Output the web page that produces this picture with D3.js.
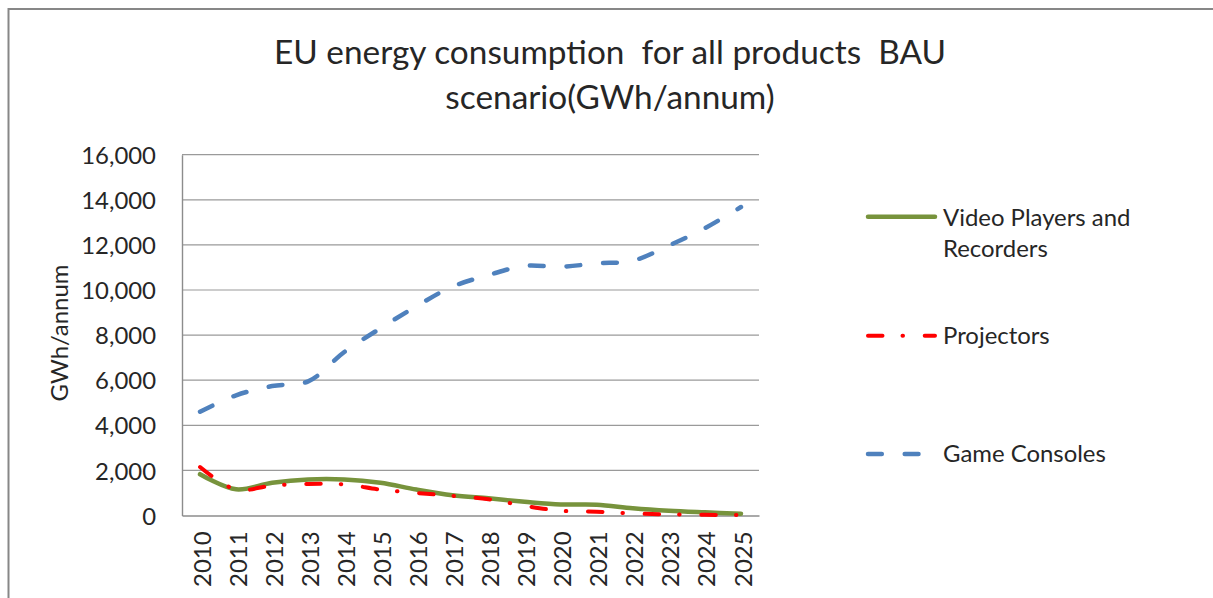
<!DOCTYPE html>
<html>
<head>
<meta charset="utf-8">
<script src="https://cdn.jsdelivr.net/npm/d3@7"></script>
<style>
  html, body { margin: 0; padding: 0; background: #fff; }
  svg { display: block; }
</style>
</head>
<body>
<svg id="chart" width="1213" height="598"></svg>
<script>
// ---- data ----
const years = ["2010","2011","2012","2013","2014","2015","2016","2017","2018","2019","2020","2021","2022","2023","2024","2025"];
const videoPlayers = [1830, 1160, 1450, 1600, 1600, 1450, 1150, 900, 760, 610, 490, 480, 320, 210, 140, 80];
const projectors   = [2150, 1150, 1330, 1400, 1380, 1150, 1000, 870, 720, 430, 210, 170, 90, 50, 30, 20];
const gameConsoles = [4600, 5330, 5740, 5950, 7250, 8300, 9280, 10150, 10660, 11070, 11030, 11180, 11300, 11970, 12740, 13680];
const yTicks = [0, 2000, 4000, 6000, 8000, 10000, 12000, 14000, 16000];
const titleLines = ["EU energy consumption  for all products  BAU", "scenario(GWh/annum)"];
const yTitle = "GWh/annum";
const seriesNames = [["Video Players and", "Recorders"], ["Projectors"], ["Game Consoles"]];

(function () {
const FONT = "Lato, 'Open Sans', sans-serif";
const TEXT = "#262626";
const svg = d3.select("#chart");

function fitSize(str, target) {
  const t = svg.append("text").attr("font-family", FONT).attr("font-size", 100).style("white-space", "pre").text(str);
  const w = t.node().getComputedTextLength();
  t.remove();
  return 100 * target / w;
}
const labelSize = (fitSize("16,000", 73) + fitSize("Video Players and", 192)) / 2;
const titleSize = fitSize(titleLines[0], 672);

// outer border
svg.append("rect").attr("x", 8.5).attr("y", 9).attr("width", 1230).attr("height", 620)
  .attr("fill", "none").attr("stroke", "#878787").attr("stroke-width", 2);

// title
svg.append("g").selectAll("text").data(titleLines).join("text")
  .attr("x", 610).attr("y", (d, i) => 64 + i * 45)
  .attr("text-anchor", "middle").attr("font-family", FONT).attr("font-size", titleSize)
  .attr("fill", TEXT).style("white-space", "pre").text(d => d);

// scales
const pLeft = 182, pRight = 759, pTop = 154.7, pBottom = 515.5;
const x = d3.scalePoint().domain(years).range([pLeft, pRight]).padding(0.5);
const y = d3.scaleLinear().domain([0, 16000]).range([pBottom, pTop]);

// gridlines
svg.append("g").selectAll("line").data(yTicks.filter(d => d > 0)).join("line")
  .attr("x1", pLeft).attr("x2", pRight).attr("y1", d => y(d)).attr("y2", d => y(d))
  .attr("stroke", "#9a9a9a").attr("stroke-width", 1.2);

// y axis
const yAxis = svg.append("g").attr("transform", `translate(${pLeft},0)`)
  .call(d3.axisLeft(y).tickValues(yTicks).tickFormat(d3.format(",")).tickSize(0).tickPadding(26));
yAxis.select(".domain").attr("stroke", "#8c8c8c").attr("stroke-width", 1.4);
yAxis.selectAll("text").attr("font-family", FONT).attr("font-size", labelSize).attr("fill", TEXT)
  .attr("dy", "0.36em");

// x axis
const xAxis = svg.append("g").attr("transform", `translate(0,${pBottom})`)
  .call(d3.axisBottom(x).tickSize(0));
xAxis.select(".domain").attr("stroke", "#8c8c8c").attr("stroke-width", 1.4);
xAxis.selectAll("text").attr("font-family", FONT).attr("font-size", labelSize).attr("fill", TEXT)
  .attr("transform", "rotate(-90)").attr("text-anchor", "end")
  .attr("x", -16).attr("y", 0).attr("dy", "0.42em");

// y title
svg.append("text").attr("transform", "translate(68,333) rotate(-90)")
  .attr("text-anchor", "middle").attr("font-family", FONT).attr("font-size", labelSize)
  .attr("fill", TEXT).text(yTitle);

// lines
const line = d3.line().x((d, i) => x(years[i])).y(d => y(d)).curve(d3.curveCatmullRom.alpha(0.5));
const styles = [
  { data: videoPlayers, color: "#77933C", width: 4.5, dash: null },
  { data: projectors, color: "#FF0000", width: 4, dash: "14.5,20,0.5,21.7" },
  { data: gameConsoles, color: "#4F81BD", width: 4.5, dash: "13.8,22.9" }
];
[2, 0, 1].forEach(k => {
  const s = styles[k];
  svg.append("path").datum(s.data).attr("d", line)
    .attr("fill", "none").attr("stroke", s.color).attr("stroke-width", s.width)
    .attr("stroke-linecap", "round").attr("stroke-linejoin", "round")
    .attr("stroke-dasharray", s.dash);
});

// legend
const legendY = [216.7, 335.7, 454];
const legendBase = [[225.7, 256.7], [343.5], [461.7]];
styles.forEach((s, k) => {
  svg.append("line").attr("x1", 868).attr("x2", 935).attr("y1", legendY[k]).attr("y2", legendY[k])
    .attr("stroke", s.color).attr("stroke-width", s.width).attr("stroke-linecap", "round")
    .attr("stroke-dasharray", s.dash);
  seriesNames[k].forEach((txt, j) => {
    svg.append("text").attr("x", 943).attr("y", legendBase[k][j])
      .attr("font-family", FONT).attr("font-size", labelSize).attr("fill", TEXT).text(txt);
  });
});
})();
</script>
</body>
</html>
